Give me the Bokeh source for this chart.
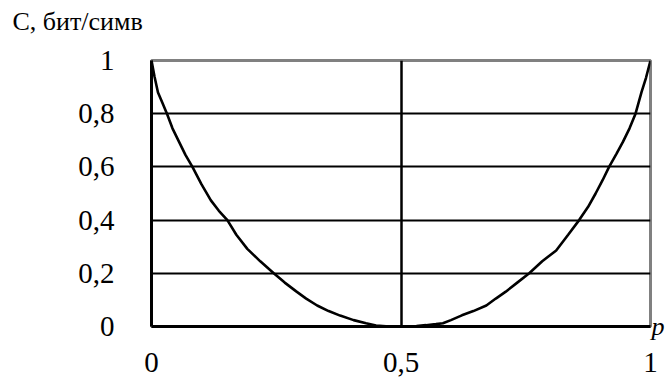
from bokeh.plotting import figure
from bokeh.models import Range1d, FixedTicker, LinearAxis, Title
from bokeh.embed import file_html
from bokeh.resources import INLINE

# Data (left and right branches of the curve)
left_p = [0.0, 0.006, 0.013, 0.022, 0.031, 0.042, 0.055, 0.068, 0.082, 0.1, 0.119, 0.135,
          0.152, 0.17, 0.192, 0.218, 0.245, 0.267, 0.29, 0.31, 0.332, 0.355, 0.378, 0.405,
          0.43, 0.45, 0.47]
left_c = [1.0, 0.94, 0.88, 0.84, 0.80, 0.745, 0.695, 0.645, 0.60, 0.535, 0.474, 0.435,
          0.40, 0.345, 0.292, 0.245, 0.20, 0.165, 0.132, 0.105, 0.079, 0.058, 0.041, 0.024,
          0.012, 0.004, 0.001]
right_p = [0.531, 0.55, 0.57, 0.584, 0.6, 0.622, 0.645, 0.671, 0.69, 0.71, 0.733, 0.757,
           0.783, 0.811, 0.835, 0.857, 0.875, 0.89, 0.904, 0.917, 0.932, 0.945, 0.958,
           0.970, 0.982, 0.991, 1.0]
right_c = [0.002, 0.005, 0.009, 0.012, 0.024, 0.042, 0.058, 0.079, 0.105, 0.131, 0.165, 0.20,
           0.245, 0.286, 0.345, 0.40, 0.45, 0.50, 0.55, 0.60, 0.65, 0.695, 0.745,
           0.80, 0.881, 0.935, 1.0]

y_ticks = [0, 0.2, 0.4, 0.6, 0.8, 1]
y_tick_labels = ["0", "0,2", "0,4", "0,6", "0,8", "1"]
x_ticks = [0, 0.5, 1]
x_tick_labels = ["0", "0,5", "1"]
y_grid_vals = [0.2, 0.4, 0.6, 0.8]
x_grid_vals = [0.5]
y_title = "C, бит/симв"
x_title = "p"

FONT = "Liberation Serif"

p = figure(width=667, height=388, output_backend="svg", toolbar_location=None,
           x_range=Range1d(0, 1), y_range=Range1d(0, 1),
           min_border_left=151, min_border_right=15, min_border_top=60, min_border_bottom=62)

p.background_fill_color = "white"
p.border_fill_color = "white"
p.outline_line_color = "#808080"
p.outline_line_width = 3

# axes
for ax in (p.xaxis[0], p.yaxis[0]):
    ax.axis_line_color = "black"
    ax.axis_line_width = 3
    ax.major_tick_line_color = None
    ax.minor_tick_line_color = None
    ax.major_tick_out = 0
    ax.major_tick_in = 0
    ax.major_label_text_font = FONT
    ax.major_label_text_font_size = "29px"
    ax.major_label_text_color = "black"

p.xaxis[0].ticker = FixedTicker(ticks=x_ticks)
p.xaxis[0].major_label_overrides = {t: l for t, l in zip(x_ticks, x_tick_labels)}
p.xaxis[0].major_label_standoff = 26
p.yaxis[0].ticker = FixedTicker(ticks=y_ticks)
p.yaxis[0].major_label_overrides = {t: l for t, l in zip(y_ticks, y_tick_labels)}
p.yaxis[0].major_label_standoff = 37

# "p" label at the right end of the horizontal axis
p_axis = LinearAxis(ticker=FixedTicker(ticks=[0]), major_label_overrides={0: x_title},
                    axis_line_color=None, major_tick_line_color=None,
                    minor_tick_line_color=None, major_tick_out=0, major_tick_in=0,
                    major_label_standoff=1, major_label_text_font=FONT,
                    major_label_text_font_style="italic",
                    major_label_text_font_size="26px", major_label_text_color="black")
p.add_layout(p_axis, "right")

# blank spacer row between frame and the title, then the title itself
spacer = Title(text=" ", standoff=3, text_font=FONT, text_font_size="18px")
p.add_layout(spacer, "above")
t = Title(text=y_title, align="left", offset=-139, standoff=0,
          text_font=FONT, text_font_style="normal", text_font_size="26px",
          text_color="black")
p.add_layout(t, "above")

# grids
p.ygrid[0].ticker = FixedTicker(ticks=y_grid_vals)
p.ygrid[0].grid_line_color = "black"
p.ygrid[0].grid_line_width = 2
p.xgrid[0].ticker = FixedTicker(ticks=x_grid_vals)
p.xgrid[0].grid_line_color = "black"
p.xgrid[0].grid_line_width = 2.5

# curve
p.line(left_p, left_c, line_color="black", line_width=2.6)
p.line(right_p, right_c, line_color="black", line_width=2.6)

open("out.html", "w").write(file_html(p, INLINE))
